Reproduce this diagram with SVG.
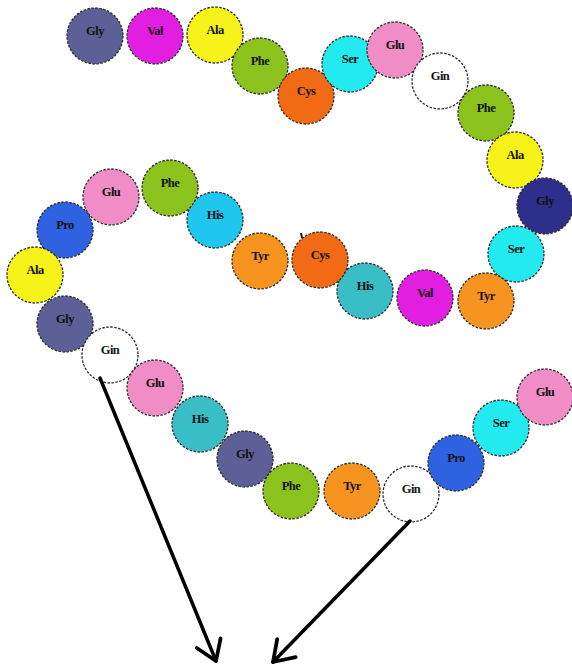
<svg xmlns="http://www.w3.org/2000/svg" width="572" height="666" viewBox="0 0 572 666">
<style>
.n circle{stroke:#2a2a2a;stroke-width:1.3;stroke-dasharray:2.5 1.5}
.n text{font-family:"Liberation Serif","Times New Roman",serif;font-weight:bold;font-size:12.5px;text-anchor:middle;fill:#111;letter-spacing:-0.5px}
.gly{fill:#5d6096}.val{fill:#e21ee0}.ala{fill:#f6f21a}.phe{fill:#8bc21e}.cys{fill:#f26b14}
.ser{fill:#22eaee}.glu{fill:#f08dc6}.gin{fill:#ffffff}.gly2{fill:#2e2f8a}.tyr{fill:#f7941f}
.his1{fill:#1fc6ee}.his2{fill:#38bec4}.pro{fill:#2f62e0}
.arrow{stroke:#000;stroke-width:3.5;fill:none;stroke-linecap:round}
</style>
<defs>
<marker id="ah" markerUnits="userSpaceOnUse" markerWidth="30" markerHeight="30" viewBox="-2 -2 24 28" refX="18" refY="12" orient="auto" overflow="visible">
<path d="M0,0 L18,12 L0,24" fill="none" stroke="#000" stroke-width="3.5" stroke-linecap="round" stroke-linejoin="round"/>
</marker>
</defs>
<g id="n1" class="n"><circle class="gly" cx="95" cy="36" r="28"/><text x="95" y="35">Gly</text></g>
<g id="n2" class="n"><circle class="val" cx="155" cy="36" r="28"/><text x="155" y="35">Val</text></g>
<g id="n3" class="n"><circle class="ala" cx="215" cy="35" r="28"/><text x="215" y="34">Ala</text></g>
<g id="n4" class="n"><circle class="phe" cx="260" cy="66" r="28"/><text x="260" y="65">Phe</text></g>
<g id="n5" class="n"><circle class="cys" cx="306" cy="96" r="28"/><text x="306" y="95">Cys</text></g>
<g id="n6" class="n"><circle class="ser" cx="350" cy="64" r="28"/><text x="350" y="63">Ser</text></g>
<g id="n7" class="n"><circle class="glu" cx="395" cy="50" r="28"/><text x="395" y="49">Glu</text></g>
<g id="n8" class="n"><circle class="gin" cx="440" cy="81" r="28"/><text x="440" y="80">Gin</text></g>
<g id="n9" class="n"><circle class="phe" cx="486" cy="113" r="28"/><text x="486" y="112">Phe</text></g>
<g id="n10" class="n"><circle class="ala" cx="515" cy="160" r="28"/><text x="515" y="159">Ala</text></g>
<g id="n11" class="n"><circle class="gly2" cx="545" cy="206" r="28"/><text x="545" y="205">Gly</text></g>
<g id="n12" class="n"><circle class="ser" cx="516" cy="254" r="28"/><text x="516" y="253">Ser</text></g>
<g id="n13" class="n"><circle class="tyr" cx="486" cy="301" r="28"/><text x="486" y="300">Tyr</text></g>
<g id="n14" class="n"><circle class="val" cx="425" cy="298" r="28"/><text x="425" y="297">Val</text></g>
<g id="n15" class="n"><circle class="his2" cx="365" cy="291" r="28"/><text x="365" y="290">His</text></g>
<g id="n16" class="n"><circle class="cys" cx="320" cy="260" r="28"/><text x="320" y="259">Cys</text></g>
<g id="n17" class="n"><circle class="tyr" cx="260" cy="261" r="28"/><text x="260" y="260">Tyr</text></g>
<g id="n18" class="n"><circle class="his1" cx="215" cy="220" r="28"/><text x="215" y="219">His</text></g>
<g id="n19" class="n"><circle class="phe" cx="170" cy="188" r="28"/><text x="170" y="187">Phe</text></g>
<g id="n20" class="n"><circle class="glu" cx="111" cy="197" r="28"/><text x="111" y="196">Glu</text></g>
<g id="n21" class="n"><circle class="pro" cx="65" cy="230" r="28"/><text x="65" y="229">Pro</text></g>
<g id="n22" class="n"><circle class="ala" cx="35" cy="275" r="28"/><text x="35" y="274">Ala</text></g>
<g id="n23" class="n"><circle class="gly" cx="65" cy="324" r="28"/><text x="65" y="323">Gly</text></g>
<g id="n24" class="n"><circle class="gin" cx="110" cy="355" r="28"/><text x="110" y="354">Gin</text></g>
<g id="n25" class="n"><circle class="glu" cx="155" cy="388" r="28"/><text x="155" y="387">Glu</text></g>
<g id="n26" class="n"><circle class="his2" cx="200" cy="424" r="28"/><text x="200" y="423">His</text></g>
<g id="n27" class="n"><circle class="gly" cx="245" cy="459" r="28"/><text x="245" y="458">Gly</text></g>
<g id="n28" class="n"><circle class="phe" cx="291" cy="491" r="28"/><text x="291" y="490">Phe</text></g>
<g id="n29" class="n"><circle class="tyr" cx="352" cy="491" r="28"/><text x="352" y="490">Tyr</text></g>
<g id="n30" class="n"><circle class="gin" cx="411" cy="494" r="28"/><text x="411" y="493">Gin</text></g>
<g id="n31" class="n"><circle class="pro" cx="456" cy="463" r="28"/><text x="456" y="462">Pro</text></g>
<g id="n32" class="n"><circle class="ser" cx="501" cy="428" r="28"/><text x="501" y="427">Ser</text></g>
<g id="n33" class="n"><circle class="glu" cx="545" cy="397" r="28"/><text x="545" y="396">Glu</text></g>
<g id="connectors">
<line class="arrow" x1="100" y1="378" x2="216" y2="661" marker-end="url(#ah)"/>
<line class="arrow" x1="410" y1="521" x2="273" y2="662" marker-end="url(#ah)"/>
<line x1="301" y1="233" x2="302" y2="238" stroke="#000" stroke-width="1.8"/>
</g>
</svg>
